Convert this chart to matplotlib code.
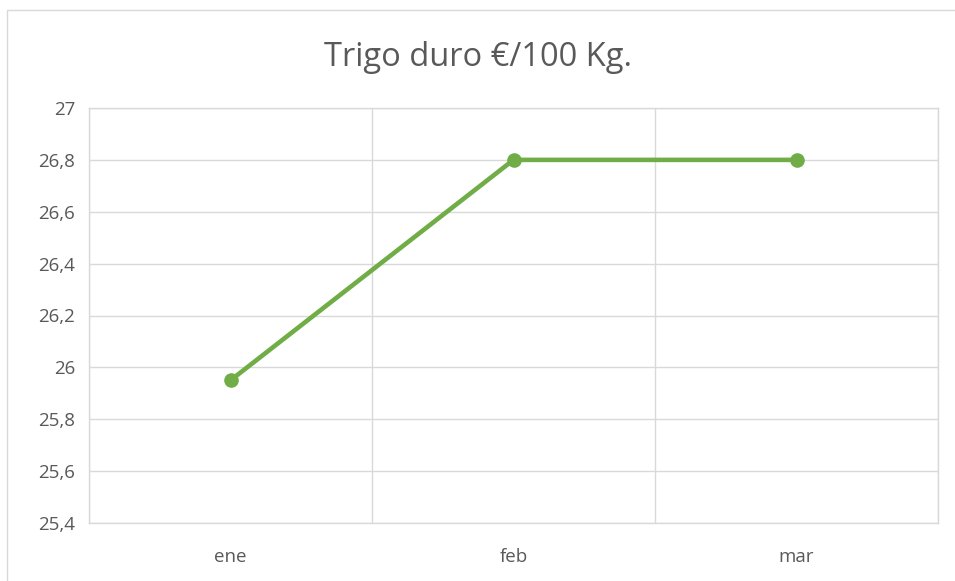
import matplotlib
matplotlib.use('Agg')
import matplotlib.pyplot as plt
from matplotlib.patches import Rectangle

# Datos del gráfico
meses = ['ene', 'feb', 'mar']
precios = [25.95, 26.8, 26.8]
y_ticks = [25.4, 25.6, 25.8, 26.0, 26.2, 26.4, 26.6, 26.8, 27.0]
titulo = 'Trigo duro €/100 Kg.'

plt.rcParams['font.family'] = ['Open Sans', 'DejaVu Sans']

fig = plt.figure(figsize=(9.55, 5.81), dpi=100)
fig.patches.append(Rectangle((7 / 955, -0.1), 1.2, (581 - 10) / 581 + 0.1,
                             transform=fig.transFigure, fill=False,
                             edgecolor='#D9D9D9', linewidth=1.0))

ax = fig.add_axes([89 / 955, 58 / 581, (938 - 89) / 955, (523 - 108) / 581])

x = list(range(len(meses)))
ax.plot(x, precios, color='#70AD47', linewidth=3.3, marker='o',
        markersize=9.5, solid_capstyle='round', zorder=3)

ax.set_xlim(-0.5, len(meses) - 0.5)
ax.set_ylim(y_ticks[0], y_ticks[-1])
ax.set_yticks(y_ticks)
ax.set_yticklabels([('%g' % v).replace('.', ',') for v in y_ticks])
ax.set_xticks(x)
ax.set_xticklabels(meses)

# líneas verticales entre categorías
ax.set_xticks([i - 0.5 for i in range(len(meses) + 1)], minor=True)
ax.grid(True, which='minor', axis='x', color='#D9D9D9', linewidth=1.0)
ax.grid(True, which='major', axis='y', color='#D9D9D9', linewidth=1.0)
ax.set_axisbelow(True)

for s in ax.spines.values():
    s.set_color('#D9D9D9')
    s.set_linewidth(1.0)

ax.tick_params(which='both', length=0, colors='#595959', labelsize=13.5)
ax.tick_params(axis='y', pad=10)
ax.tick_params(axis='x', pad=18)

fig.text(0.5, (581 - 57) / 581, titulo, ha='center', va='center',
         fontsize=23.5, color='#595959')

fig.savefig('out.png', dpi=100)
